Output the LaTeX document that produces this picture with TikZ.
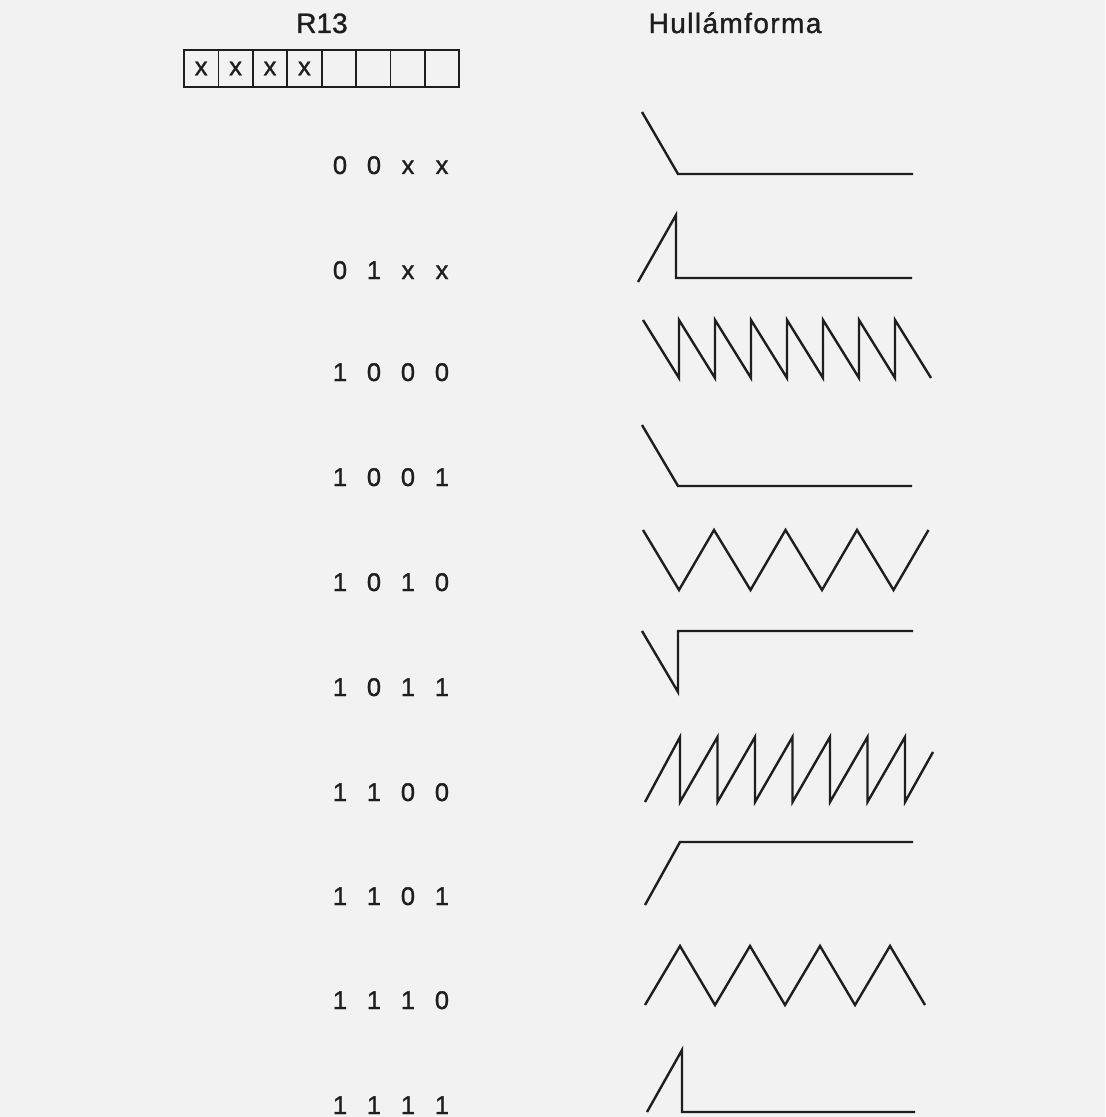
\documentclass[tikz,border=0pt]{standalone}
\usepackage{fontspec}
\setmainfont{Liberation Sans}
\usetikzlibrary{positioning}

\definecolor{ink}{RGB}{30,30,30}
\definecolor{paper}{RGB}{242,242,242}

\newcommand{\bitrow}[4]{\makebox[17pt]{#1}\makebox[17pt]{#2}\makebox[17pt]{#3}\makebox[17pt]{#4}}

\tikzset{
  txt/.style={text=ink,font=\fontsize{12.8}{15}\selectfont\addfontfeature{FakeBold=1.2},inner sep=0pt},
  title/.style={txt,font=\fontsize{14}{16}\selectfont\addfontfeature{FakeBold=1.2}},
  cell/.style={draw=ink,line width=0.9pt,minimum width=17.2pt,minimum height=18.5pt,inner sep=0pt,txt},
  wave/.style={draw=ink,line width=1.2pt,line join=miter}
}

\begin{document}
\begin{tikzpicture}[x=0.5pt,y=-0.5pt]
			\fill[paper] (0,0) rectangle (1105,1117);
			\useasboundingbox (0,0) rectangle (1105,1117);
			% \draw[style=help lines] (0,0) grid[step=50] (1105,1117);

			\node[title,anchor=base] (r13) at (322,33) {R13};
			\node[title,anchor=base] (hullam) at (735,33) {\addfontfeature{LetterSpace=5}Hullámforma};

			\foreach \i in {1,...,8}
				\node[cell] (c\i) at (184+34.4*\i-17.2,68.5) {\ifnum\i<5 \raisebox{-1pt}{x}\fi};

			\foreach \y/\a/\b/\c/\d [count=\k] in {174/0/0/x/x, 279/0/1/x/x, 381/1/0/0/0, 486/1/0/0/1, 591/1/0/1/0,
					696/1/0/1/1, 801/1/1/0/0, 905/1/1/0/1, 1009/1/1/1/0, 1114/1/1/1/1}
				\node[txt,anchor=base] (row\k) at (391,\y) {\bitrow{\a}{\b}{\c}{\d}};

			% 0 0 x x
			\draw[wave] (642,112) -- (678,174) -- (913,174);
			% 0 1 x x
			\draw[wave] (638,282) -- (676,215) -- (676,278) -- (912,278);
			% 1 0 0 0
			\draw[wave] (643,320) \foreach \i in {1,...,7} {-- (643+36*\i,378) -- (643+36*\i,320)} -- (931,378);
			% 1 0 0 1
			\draw[wave] (642,425) -- (678,486) -- (912,486);
			% 1 0 1 0
			\draw[wave] (643,530) \foreach \i in {0,...,3} {-- (679+71.5*\i,590) -- (714+71.5*\i,530)};
			% 1 0 1 1
			\draw[wave] (642,631) -- (678,692) -- (678,631) -- (913,631);
			% 1 1 0 0
			\draw[wave] (645,802) \foreach \i in {0,...,6} {-- (680+37.5*\i,737) -- (680+37.5*\i,802)} -- (933,752);
			% 1 1 0 1
			\draw[wave] (645,905) -- (680,842) -- (913,842);
			% 1 1 1 0
			\draw[wave] (645,1005) \foreach \i in {0,...,3} {-- (680+70*\i,946) -- (715+70*\i,1005)};
			% 1 1 1 1
			\draw[wave] (647,1112) -- (682,1050) -- (682,1112) -- (915,1112);
\end{tikzpicture}
\end{document}
